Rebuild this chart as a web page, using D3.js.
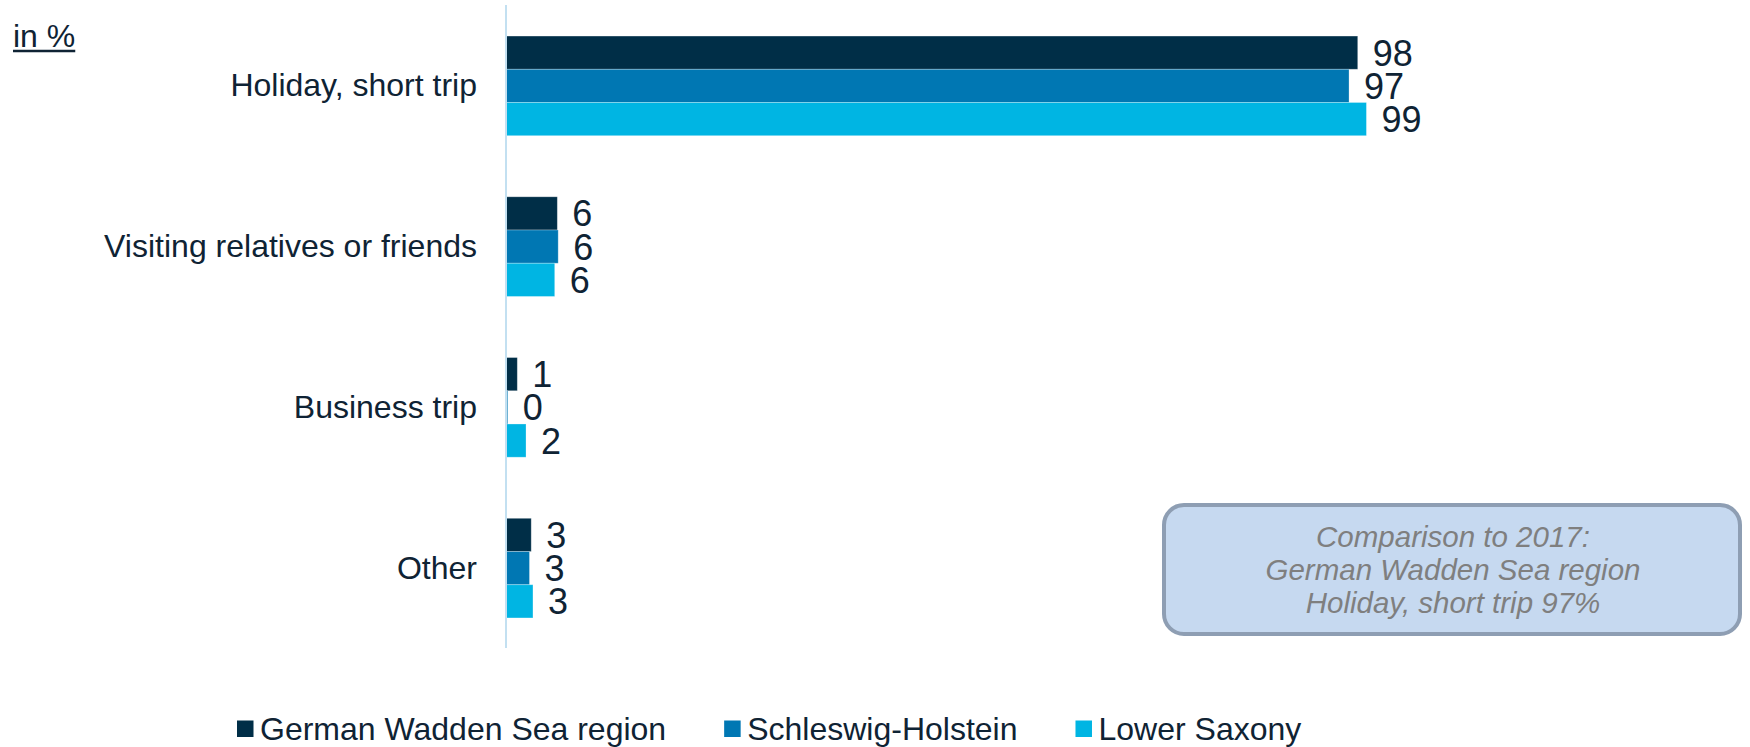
<!DOCTYPE html>
<html>
<head>
<meta charset="utf-8">
<script src="https://cdn.jsdelivr.net/npm/d3@7"></script>
<style>
  html, body { margin: 0; padding: 0; background: #fff; }
  svg { display: block; font-family: "Liberation Sans", Arial, sans-serif; }
</style>
</head>
<body>
<div id="chart"></div>
<script>
// data
var categories = ["Holiday, short trip", "Visiting relatives or friends", "Business trip", "Other"];
var series = ["German Wadden Sea region", "Schleswig-Holstein", "Lower Saxony"];
var colors = ["#002e47", "#0077b3", "#00b5e3"];
var wadden = [97.9, 5.9, 1.3, 2.9];
var schleswig = [96.9, 6.0, 0.2, 2.7];
var lowerSaxony = [98.9, 5.6, 2.3, 3.1];
var noteLines = ["Comparison to 2017:", "German Wadden Sea region", "Holiday, short trip 97%"];

var W = 1750, H = 747;
var textColor = "#0f2334";

var svg = d3.select("#chart").append("svg")
    .attr("width", W)
    .attr("height", H);

// scales
var x = d3.scaleLinear().domain([0, 100]).range([506, 1376]);
var y = d3.scaleBand().domain(categories).range([5.5, 648.5])
    .paddingInner(0.38).paddingOuter(0.19);
var ySub = d3.scaleBand().domain(series).range([0, y.bandwidth()]);

var rows = categories.map(function(c, i) {
    return {
        cat: c,
        vals: [wadden[i], schleswig[i], lowerSaxony[i]].map(function(v, j) {
            return { name: series[j], value: v, color: colors[j] };
        })
    };
});

// "in %" with underline
var unit = svg.append("text")
    .attr("x", 13).attr("y", 46.7)
    .attr("font-size", 32).attr("fill", textColor)
    .text("in %");
svg.append("line")
    .attr("x1", 13).attr("x2", 13 + unit.node().getComputedTextLength())
    .attr("y1", 51).attr("y2", 51)
    .attr("stroke", textColor).attr("stroke-width", 2.6);

// bars
var groups = svg.selectAll("g.row").data(rows).enter()
    .append("g")
        .attr("class", "row")
        .attr("transform", function(d) { return "translate(0," + y(d.cat) + ")"; });

groups.selectAll("rect").data(function(d) { return d.vals; }).enter()
    .append("rect")
        .attr("x", x(0))
        .attr("y", function(d) { return ySub(d.name); })
        .attr("width", function(d) { return x(d.value) - x(0); })
        .attr("height", ySub.bandwidth())
        .attr("fill", function(d) { return d.color; })
        .attr("stroke", "#ffffff").attr("stroke-opacity", 0.35).attr("stroke-width", 0.8);

groups.selectAll("text.val").data(function(d) { return d.vals; }).enter()
    .append("text")
        .attr("class", "val")
        .attr("x", function(d) { return x(d.value) + 15; })
        .attr("y", function(d) { return ySub(d.name) + ySub.bandwidth() / 2 + 13; })
        .attr("font-size", 36)
        .attr("fill", textColor)
        .text(function(d) { return Math.round(d.value); });

// category labels
groups.append("text")
    .attr("x", 477)
    .attr("y", y.bandwidth() / 2 + 10.5)
    .attr("text-anchor", "end")
    .attr("font-size", 32)
    .attr("fill", textColor)
    .text(function(d) { return d.cat; });

// axis line
svg.append("line")
    .attr("x1", x(0)).attr("x2", x(0))
    .attr("y1", 5).attr("y2", 648)
    .attr("stroke", "#c3e0f1").attr("stroke-width", 2);

// note box
svg.append("rect")
    .attr("x", 1164).attr("y", 505)
    .attr("width", 576).attr("height", 129)
    .attr("rx", 20).attr("ry", 20)
    .attr("fill", "#c6d9f0")
    .attr("stroke", "#8e9eb3").attr("stroke-width", 4);

svg.append("g").selectAll("text").data(noteLines).enter()
    .append("text")
        .attr("x", 1453)
        .attr("y", function(d, i) { return 547 + i * 33.2; })
        .attr("text-anchor", "middle")
        .attr("font-size", 29.5)
        .attr("font-style", "italic")
        .attr("fill", "#7f7f7f")
        .text(function(d) { return d; });

// legend
var legend = svg.append("g");
var lx = 237;
series.forEach(function(s, i) {
    legend.append("rect")
        .attr("x", lx).attr("y", 720.5)
        .attr("width", 16.5).attr("height", 16.5)
        .attr("fill", colors[i]);
    var t = legend.append("text")
        .attr("x", lx + 23).attr("y", 739.5)
        .attr("font-size", 32)
        .attr("fill", textColor)
        .text(s);
    lx += 23 + t.node().getComputedTextLength() + 58;
});
</script>
</body>
</html>
